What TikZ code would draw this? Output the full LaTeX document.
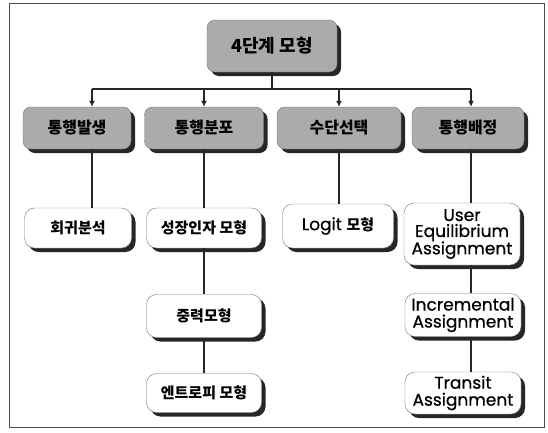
\documentclass[tikz,border=0pt]{standalone}
\usepackage{fontspec}
\setmainfont{Poppins}[FakeBold=0.6]
\newfontfamily\kr{Noto Sans CJK KR}
\usetikzlibrary{arrows.meta,shadows}
\begin{document}
\begin{tikzpicture}[x=1pt,y=-1pt,
 boxshadow/.style={drop shadow={shadow xshift=4pt,shadow yshift=-4pt,fill=black!85,opacity=1}},
 stage/.style={draw=black!55,fill=black!33,rounded corners=8pt,boxshadow,inner sep=0pt,
  font=\kr\bfseries\fontsize{16}{18}\selectfont},
 model/.style={draw=black!55,fill=white,rounded corners=10pt,boxshadow,inner sep=0pt,align=center,
  font=\fontsize{17}{17}\selectfont},
 kor/.style={font=\kr\bfseries\fontsize{15}{15}\selectfont},
 link/.style={line width=1.4pt,black!85},
 feed/.style={link,-{Latex[length=6pt,width=6pt]}}]
 \useasboundingbox (0,0) rectangle (548,432);
 \draw[black!70,line width=1pt] (9,3) rectangle (544,427);
 % top and the four stages
 \node[stage,minimum width=130pt,minimum height=52pt,font=\kr\bfseries\fontsize{18}{20}\selectfont] (top) at (272,46) {4단계 모형};
 \node[stage,minimum width=108pt,minimum height=42pt] (gen) at (77,128) {통행발생};
 \node[stage,minimum width=119pt,minimum height=42pt] (dist) at (204,128) {통행분포};
 \node[stage,minimum width=124pt,minimum height=42pt] (mode) at (339,128) {수단선택};
 \node[stage,minimum width=112pt,minimum height=42pt] (assign) at (468,128) {통행배정};
 % models
 \node[model,kor,minimum width=107pt,minimum height=40pt] (reg) at (78,228) {회귀분석};
 \node[model,kor,minimum width=115pt,minimum height=40pt] (growth) at (204,228) {성장인자 모형};
 \node[model,minimum width=111pt,minimum height=44pt] (logit) at (338,226) {Logit {\kr\bfseries\fontsize{15}{15}\selectfont 모형}};
 \node[model,minimum width=116pt,minimum height=62pt] (ue) at (462,234) {User\\[-1pt]Equilibrium\\[-1pt]Assignment};
 \node[model,kor,minimum width=115pt,minimum height=43pt] (grav) at (204,316) {중력모형};
 \node[model,minimum width=116pt,minimum height=43pt] (incr) at (463,315) {Incremental\\Assignment};
 \node[model,kor,minimum width=115pt,minimum height=39pt] (entr) at (204,393) {엔트로피 모형};
 \node[model,minimum width=116pt,minimum height=42pt] (trans) at (463,393) {Transit\\Assignment};
 % connectors
 \coordinate (bus) at (272,89);
 \draw[link] (top) -- (top |- bus);
 \foreach \n/\s in {gen/15,dist/0,mode/0,assign/3}{
  \coordinate (\n-in) at ([xshift=\s pt]\n.north);
  \draw[feed] (\n-in |- bus) -- (\n-in);
 }
 \draw[link] (gen-in |- bus) -- (assign-in |- bus);
 \draw[link] (gen-in |- gen.south) -- (gen-in |- reg.north);
 \draw[link] (dist.south) -- (growth.north);
 \draw[link] (growth.south) -- (grav.north);
 \draw[link] (grav.south) -- (entr.north);
 \draw[link] (mode.south) -- (mode.south |- logit.north);
 \draw[link] (assign-in |- assign.south) -- (assign-in |- ue.north);
 \draw[link] (assign-in |- ue.south) -- (assign-in |- incr.north);
 \draw[link] (assign-in |- incr.south) -- (assign-in |- trans.north);
\end{tikzpicture}
\end{document}
